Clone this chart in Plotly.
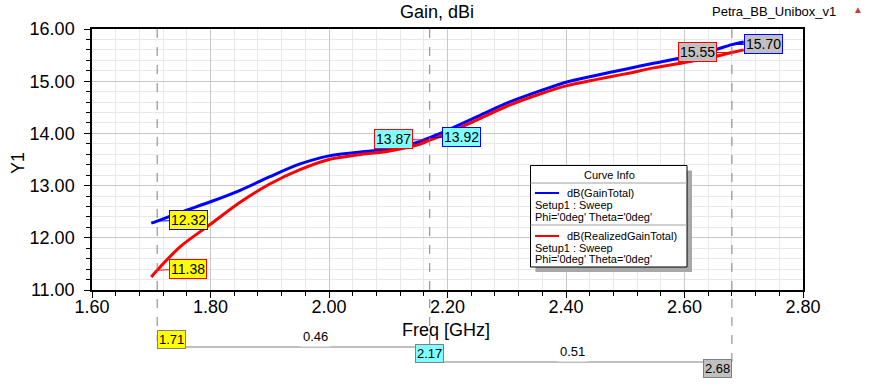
import plotly.graph_objects as go

# ---------------- data ----------------
freq = [1.70, 1.71, 1.75, 1.80, 1.85, 1.90, 1.95, 2.00, 2.05, 2.10, 2.15, 2.17,
        2.20, 2.25, 2.30, 2.35, 2.40, 2.45, 2.50, 2.55, 2.60, 2.65, 2.68, 2.70]
gain_total = [12.28, 12.32, 12.49, 12.69, 12.91, 13.17, 13.41, 13.57, 13.64, 13.70, 13.83, 13.92,
              14.06, 14.32, 14.58, 14.79, 14.98, 15.11, 15.23, 15.35, 15.46, 15.60, 15.70, 15.75]
realized_gain = [11.25, 11.38, 11.84, 12.26, 12.68, 13.03, 13.30, 13.50, 13.59, 13.66, 13.78, 13.87,
                 14.00, 14.26, 14.52, 14.73, 14.91, 15.03, 15.14, 15.26, 15.36, 15.47, 15.55, 15.60]

marker_freqs = [1.71, 2.17, 2.68]
marker_colors = ["#ffff00", "#80ffff", "#c0c0c0"]
marker_gain = [12.32, 13.92, 15.70]
marker_realized = [11.38, 13.87, 15.55]
delta_labels = ["0.46", "0.51"]

x_ticks = [1.60, 1.80, 2.00, 2.20, 2.40, 2.60, 2.80]
y_ticks = [11.0, 12.0, 13.0, 14.0, 15.0, 16.0]

# ---------------- layout geometry ----------------
W, H = 876, 389
L, R, T, B = 92, 803, 29, 290  # plot area pixels
XMIN, XMAX = 1.6, 2.8

def px(x):
    return (x - L) / (R - L)

def py(y):
    return (B - y) / (B - T)

def fx(f):
    return (f - XMIN) / (XMAX - XMIN)

FONT = "Liberation Sans, Arial, sans-serif"

fig = go.Figure()
fig.add_trace(go.Scatter(x=freq, y=gain_total, mode="lines", name="dB(GainTotal)",
                         line=dict(color="#0000ff", width=3, shape="spline", smoothing=0.8)))
fig.add_trace(go.Scatter(x=freq, y=realized_gain, mode="lines", name="dB(RealizedGainTotal)",
                         line=dict(color="#ff0000", width=3, shape="spline", smoothing=0.8)))

shapes = []
annotations = []

# marker vertical dashed lines
bottoms = [341, 356, 370]
for f, b in zip(marker_freqs, bottoms):
    shapes.append(dict(type="line", xref="paper", yref="paper", x0=fx(f), x1=fx(f),
                       y0=1, y1=py(b), line=dict(color="#808080", width=1, dash="dash"),
                       layer="above"))

# bottom marker boxes
box_y = [349, 363, 378]
for f, c, yb in zip(marker_freqs, marker_colors, box_y):
    annotations.append(dict(xref="paper", yref="paper", x=fx(f), y=py(yb), text="%.2f" % f,
                            showarrow=False, bgcolor=c, bordercolor="#808080", borderwidth=1,
                            borderpad=1, font=dict(family=FONT, size=13, color="black")))

# delta lines
delta_y = [347, 362]
box_half = 14
for i, lab in enumerate(delta_labels):
    f0, f1 = marker_freqs[i], marker_freqs[i + 1]
    x0 = fx(f0) + box_half / (R - L)
    x1 = fx(f1)
    shapes.append(dict(type="line", xref="paper", yref="paper", x0=x0, x1=x1,
                       y0=py(delta_y[i]), y1=py(delta_y[i]),
                       line=dict(color="#808080", width=1)))
    annotations.append(dict(xref="paper", yref="paper", x=(x0 + x1) / 2, y=py(delta_y[i]),
                            text=lab, showarrow=False, bgcolor="white", borderpad=2,
                            font=dict(family=FONT, size=13, color="black")))

# data marker callouts
offsets_gain = [(31, -1), (32, -1), (32, -1)]
offsets_real = [(31, -1), (-36, -1), (-34, 0)]
for f, c, vg, vr, og, orr in zip(marker_freqs, marker_colors, marker_gain, marker_realized,
                                 offsets_gain, offsets_real):
    annotations.append(dict(x=f, y=vg, xref="x", yref="y", text="%.2f" % vg, showarrow=True,
                            ax=og[0], ay=og[1], arrowhead=0, arrowwidth=1, arrowcolor="#0000ff",
                            bgcolor=c, bordercolor="#0000ff", borderwidth=1, borderpad=1,
                            font=dict(family=FONT, size=14, color="black")))
    annotations.append(dict(x=f, y=vr, xref="x", yref="y", text="%.2f" % vr, showarrow=True,
                            ax=orr[0], ay=orr[1], arrowhead=0, arrowwidth=1, arrowcolor="#ff0000",
                            bgcolor=c, bordercolor="#ff0000", borderwidth=1, borderpad=1,
                            font=dict(family=FONT, size=14, color="black")))

# legend box (Curve Info)
lx0, lx1, ly0, ly1 = 530.5, 687, 165.5, 267
shapes.append(dict(type="rect", xref="paper", yref="paper", x0=px(lx0 + 5), x1=px(lx1 + 5),
                   y0=py(ly0 + 5), y1=py(ly1 + 5), fillcolor="#a8a8a8", line=dict(width=0),
                   layer="above"))
shapes.append(dict(type="rect", xref="paper", yref="paper", x0=px(lx0), x1=px(lx1),
                   y0=py(ly0), y1=py(ly1), fillcolor="white", line=dict(color="black", width=1),
                   layer="above"))
for yy in [183, 225]:
    shapes.append(dict(type="line", xref="paper", yref="paper", x0=px(lx0), x1=px(lx1),
                       y0=py(yy), y1=py(yy), line=dict(color="#a0a0a0", width=1), layer="above"))
shapes.append(dict(type="line", xref="paper", yref="paper", x0=px(535), x1=px(559),
                   y0=py(193), y1=py(193), line=dict(color="#0000ff", width=2), layer="above"))
shapes.append(dict(type="line", xref="paper", yref="paper", x0=px(535), x1=px(559),
                   y0=py(236), y1=py(236), line=dict(color="#ff0000", width=2), layer="above"))

def ptext(x, y, text, xanchor="left", size=12, **kw):
    annotations.append(dict(xref="paper", yref="paper", x=px(x), y=py(y), text=text,
                            showarrow=False, xanchor=xanchor, yanchor="middle", borderpad=0,
                            font=dict(family=FONT, size=size, color=kw.get("color", "black")),
                            textangle=kw.get("textangle", 0)))

ptext(609, 175, "Curve Info", xanchor="center", size=11)
ptext(566, 193, "dB(GainTotal)", size=11)
ptext(534, 205, "Setup1 : Sweep", size=11)
ptext(534, 217, "Phi='0deg' Theta='0deg'", size=11)
ptext(566, 236, "dB(RealizedGainTotal)", size=11)
ptext(534, 248, "Setup1 : Sweep", size=11)
ptext(534, 259, "Phi='0deg' Theta='0deg'", size=11)

# titles
ptext(437, 12, "Gain, dBi", xanchor="center", size=18)
ptext(837, 12, "Petra_BB_Unibox_v1", xanchor="right", size=13)
ptext(858, 9, "▲", xanchor="center", size=10, color="#c04040")
ptext(446, 330, "Freq [GHz]", xanchor="center", size=18)
ptext(18, 163, "Y1", xanchor="center", size=18, textangle=-90)

fig.update_layout(
    width=W, height=H,
    margin=dict(l=L, r=W - R, t=T, b=H - B, pad=0),
    paper_bgcolor="white", plot_bgcolor="white",
    showlegend=False,
    shapes=shapes, annotations=annotations,
    xaxis=dict(range=[XMIN, XMAX], tickvals=x_ticks, ticktext=["%.2f" % v for v in x_ticks],
               showline=True, linecolor="black", linewidth=1.5, mirror=True,
               ticks="outside", ticklen=6, tickcolor="black", tickwidth=1,
               ticklabelstandoff=-6,
               showgrid=True, gridcolor="#c8c8c8", gridwidth=1, zeroline=False,
               tickfont=dict(family=FONT, size=18, color="black"),
               minor=dict(dtick=0.04, tick0=1.6, ticks="outside", ticklen=4, tickcolor="black",
                          showgrid=True, gridcolor="#e8e8e8", gridwidth=1)),
    yaxis=dict(range=[11, 16], tickvals=y_ticks, ticktext=["%.2f" % v for v in y_ticks],
               showline=True, linecolor="black", linewidth=1.5, mirror=True,
               ticks="outside", ticklen=6, tickcolor="black", tickwidth=1,
               ticklabelstandoff=6,
               showgrid=True, gridcolor="#c8c8c8", gridwidth=1, zeroline=False,
               tickfont=dict(family=FONT, size=18, color="black"),
               minor=dict(dtick=0.2, tick0=11, ticks="outside", ticklen=4, tickcolor="black",
                          showgrid=True, gridcolor="#e8e8e8", gridwidth=1)),
)

fig.write_html("out.html", config={"displayModeBar": False},
               post_script="document.body.style.margin='0px';")
